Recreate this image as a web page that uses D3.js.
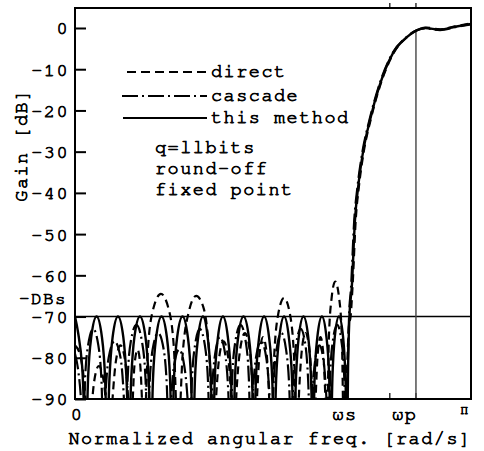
<!DOCTYPE html>
<html>
<head>
<meta charset="utf-8">
<script src="https://cdn.jsdelivr.net/npm/d3@7"></script>
<style>
  body { margin: 0; background: #fff; }
  svg text { font-family: "Nimbus Mono PS", "Nimbus Mono L", "FreeMono", "Courier Prime", "Courier 10 Pitch", "Liberation Mono", monospace; font-size: 18.5px; letter-spacing: 1.5px; fill: #000; stroke: #000; stroke-width: 0.75px; }
</style>
</head>
<body>
<div id="chart"></div>
<script>
// frequencies are in units of pi (0..1), gains in dB
var yTicks = [0, -10, -20, -30, -40, -50, -60, -70, -80, -90]
var xLabels = [[0.005, "0"], [0.682, "ωs"], [0.833, "ωp"], [0.985, "π"]]
var minorTicks = [0.795, 0.861]
var stopLevel = -70
var wp = 0.861

var thisMethod = [[0.000,-70],[0.008,-74],[0.018,-82],[0.028,-100],
  [0.033,-85],[0.041,-75],[0.0545,-70],[0.068,-75],[0.076,-85],[0.081,-100],
  [0.087,-85],[0.095,-75],[0.1085,-70],[0.122,-75],[0.130,-85],[0.136,-100],
  [0.142,-85],[0.150,-75],[0.164,-70],[0.178,-75],[0.186,-85],[0.192,-100],
  [0.197,-85],[0.205,-75],[0.2185,-70],[0.232,-75],[0.240,-85],[0.245,-100],
  [0.250,-85],[0.258,-75],[0.2715,-70],[0.285,-75],[0.293,-85],[0.298,-100],
  [0.303,-85],[0.311,-75],[0.323,-70],[0.335,-75],[0.343,-85],[0.348,-100],
  [0.353,-85],[0.361,-75],[0.3735,-70],[0.386,-75],[0.394,-85],[0.399,-100],
  [0.404,-85],[0.412,-75],[0.4255,-70],[0.439,-75],[0.447,-85],[0.452,-100],
  [0.457,-85],[0.465,-75],[0.4775,-70],[0.490,-75],[0.498,-85],[0.503,-100],
  [0.508,-85],[0.516,-75],[0.528,-70],[0.540,-75],[0.548,-85],[0.553,-100],
  [0.558,-85],[0.565,-75],[0.577,-70],[0.589,-75],[0.596,-85],[0.601,-100],
  [0.605,-85],[0.612,-75],[0.6235,-70],[0.635,-75],[0.642,-85],[0.646,-100],
  [0.650,-85],[0.656,-75],[0.6665,-70],[0.677,-75],[0.683,-85],[0.687,-100],
  [0.690,-80],[0.693,-70],[0.699,-62.8],[0.707,-46.6],[0.715,-38.6],[0.727,-30.3],
  [0.745,-22.3],[0.768,-14.3],[0.803,-6.1],[0.838,-2.2],[0.864,-0.5],[0.884,0],
  [0.922,-0.4],[0.960,0.3],[1.000,1.0]]

var direct = [[0.000,-77],[0.012,-79],[0.025,-88],[0.033,-100],
  [0.040,-94],[0.048,-86],[0.060,-82],[0.073,-86],[0.081,-94],[0.088,-100],
  [0.094,-91],[0.103,-81],[0.115,-77],[0.127,-81],[0.135,-91],[0.141,-100],
  [0.145,-92],[0.150,-82],[0.158,-78],[0.165,-82],[0.170,-92],[0.174,-100],
  [0.184,-78],[0.198,-68],[0.217,-64.5],[0.236,-68],[0.250,-78],[0.260,-100],
  [0.272,-79],[0.287,-69],[0.306,-65],[0.325,-68],[0.339,-79],[0.350,-100],
  [0.356,-90],[0.364,-80],[0.375,-76],[0.387,-80],[0.395,-90],[0.402,-100],
  [0.408,-88],[0.417,-78],[0.429,-74],[0.441,-78],[0.449,-88],[0.455,-100],
  [0.460,-89],[0.466,-79],[0.475,-75],[0.484,-79],[0.490,-89],[0.495,-100],
  [0.503,-79.5],[0.513,-69.5],[0.528,-65.5],[0.543,-69.5],[0.553,-79.5],[0.561,-100],
  [0.566,-88],[0.573,-78],[0.582,-74],[0.592,-78],[0.599,-88],[0.604,-100],
  [0.608,-89],[0.613,-79],[0.620,-75],[0.627,-79],[0.632,-89],[0.636,-100],
  [0.641,-75.5],[0.648,-65.5],[0.657,-61.5],[0.667,-65.5],[0.674,-75.5],[0.679,-100],
  [0.686,-85],[0.692,-72],[0.696,-70],[0.701,-62.5],[0.709,-46.4],[0.717,-38.4],[0.729,-30.1],
  [0.747,-22.1],[0.770,-14.1],[0.805,-6.0],[0.840,-2.1],[0.866,-0.4],[0.886,0.1],
  [0.922,-0.3],[0.960,0.4],[1.000,1.1]]

var cascade = [[0.000,-79],[0.008,-83],[0.015,-90],[0.020,-100],
  [0.025,-86],[0.033,-77],[0.046,-73],[0.059,-77],[0.067,-86],[0.072,-100],
  [0.077,-89],[0.085,-80],[0.100,-76],[0.115,-80],[0.123,-89],[0.128,-100],
  [0.133,-85],[0.141,-76],[0.155,-72],[0.169,-76],[0.178,-85],[0.183,-100],
  [0.188,-87],[0.196,-78],[0.210,-74],[0.224,-78],[0.232,-87],[0.237,-100],
  [0.242,-91],[0.250,-82],[0.263,-78],[0.276,-82],[0.285,-91],[0.290,-100],
  [0.295,-86],[0.303,-77],[0.315,-73],[0.328,-77],[0.336,-86],[0.341,-100],
  [0.346,-88],[0.354,-79],[0.366,-75],[0.379,-79],[0.387,-88],[0.392,-100],
  [0.397,-85],[0.405,-76],[0.418,-72],[0.431,-76],[0.439,-85],[0.444,-100],
  [0.449,-89],[0.457,-80],[0.470,-76],[0.483,-80],[0.491,-89],[0.496,-100],
  [0.501,-87],[0.509,-78],[0.521,-74],[0.533,-78],[0.541,-87],[0.546,-100],
  [0.551,-86],[0.558,-77],[0.570,-73],[0.582,-77],[0.589,-86],[0.594,-100],
  [0.599,-90],[0.606,-81],[0.617,-77],[0.628,-81],[0.635,-90],[0.640,-100],
  [0.644,-85],[0.651,-76],[0.662,-72],[0.673,-76],[0.680,-85],[0.684,-100],
  [0.689,-82],[0.692,-70],[0.697,-63.0],[0.705,-46.8],[0.713,-38.8],[0.725,-30.5],
  [0.743,-22.5],[0.766,-14.5],[0.801,-6.2],[0.836,-2.3],[0.862,-0.6],[0.882,-0.1],
  [0.922,-0.5],[0.960,0.2],[1.000,0.9]]

var legendItems = [["direct", "9,5", 127, 72], ["cascade", "16,4,2,4", 122, 96], ["this method", null, 123, 118]]
var notes = ["q=llbits", "round-off", "fixed point"]

var W = 484, H = 451
var x = d3.scaleLinear().domain([0, 1]).range([75, 471])
var y = d3.scaleLinear().domain([-90, 4.85]).range([399, 8])

var svg = d3.select("#chart").append("svg").attr("width", W).attr("height", H)

svg.append("clipPath").attr("id", "plot")
  .append("rect").attr("x", 75).attr("y", 8).attr("width", 396).attr("height", 391)

// y axis with inside ticks
var yAxis = svg.append("g")
  .attr("transform", "translate(75,0)")
  .call(d3.axisLeft(y).tickValues(yTicks).tickSize(-11).tickPadding(6).tickFormat(function(d) { return String(d) }))
yAxis.select(".domain").remove()
yAxis.selectAll(".tick line").attr("stroke", "#000").attr("stroke-width", 2)
yAxis.attr("font-family", null).attr("font-size", null)

svg.append("text").attr("x", 67).attr("y", 304).attr("text-anchor", "end").style("font-size", "17.5px").text("-DBs")

// x labels
xLabels.forEach(function(d) {
  svg.append("text")
    .attr("x", x(d[0])).attr("y", d[1] == "π" ? 414 : 420)
    .attr("text-anchor", "middle")
    .style("font-size", d[1] == "π" ? "15px" : null)
    .text(d[1])
})
svg.append("text").attr("x", 270).attr("y", 444).attr("text-anchor", "middle")
  .text("Normalized angular freq. [rad/s]")
svg.append("text").attr("transform", "translate(27,145) rotate(-90)").attr("text-anchor", "middle")
  .text("Gain [dB]")

// minor ticks top and bottom
minorTicks.forEach(function(t) {
  svg.append("line").attr("x1", x(t)).attr("x2", x(t)).attr("y1", 3).attr("y2", 8).attr("stroke", "#000").attr("stroke-width", 1.2)
  svg.append("line").attr("x1", x(t)).attr("x2", x(t)).attr("y1", 393).attr("y2", 399).attr("stroke", "#000").attr("stroke-width", 1.2)
})

// stopband level and wp marker
svg.append("line").attr("x1", x(0)).attr("x2", x(1)).attr("y1", y(stopLevel)).attr("y2", y(stopLevel))
  .attr("stroke", "#000").attr("stroke-width", 1.5)
svg.append("line").attr("x1", x(wp)).attr("x2", x(wp)).attr("y1", y(-0.8)).attr("y2", y(-90))
  .attr("stroke", "#444").attr("stroke-width", 1.4)

var line = d3.line()
  .x(function(d) { return x(d[0]) })
  .y(function(d) { return y(d[1]) })
  .curve(d3.curveMonotoneX)

var curves = svg.append("g").attr("clip-path", "url(#plot)")
curves.append("path").datum(cascade).attr("d", line)
  .attr("fill", "none").attr("stroke", "#000").attr("stroke-width", 2.2).attr("stroke-dasharray", "16,4,2,4")
curves.append("path").datum(direct).attr("d", line)
  .attr("fill", "none").attr("stroke", "#000").attr("stroke-width", 2.2).attr("stroke-dasharray", "8,5")
curves.append("path").datum(thisMethod).attr("d", line)
  .attr("fill", "none").attr("stroke", "#000").attr("stroke-width", 2.4)

// frame
svg.append("rect").attr("x", 75).attr("y", 8).attr("width", 396).attr("height", 391)
  .attr("fill", "none").attr("stroke", "#000").attr("stroke-width", 2)

// legend
legendItems.forEach(function(d) {
  svg.append("line").attr("x1", d[2]).attr("x2", 207).attr("y1", d[3]).attr("y2", d[3])
    .attr("stroke", "#000").attr("stroke-width", 2)
    .attr("stroke-dasharray", d[1])
  svg.append("text").attr("x", 211).attr("y", d[3] + 5).text(d[0])
})
notes.forEach(function(n, i) {
  svg.append("text").attr("x", 155).attr("y", 153 + i * 21).text(n)
})
</script>
</body>
</html>
